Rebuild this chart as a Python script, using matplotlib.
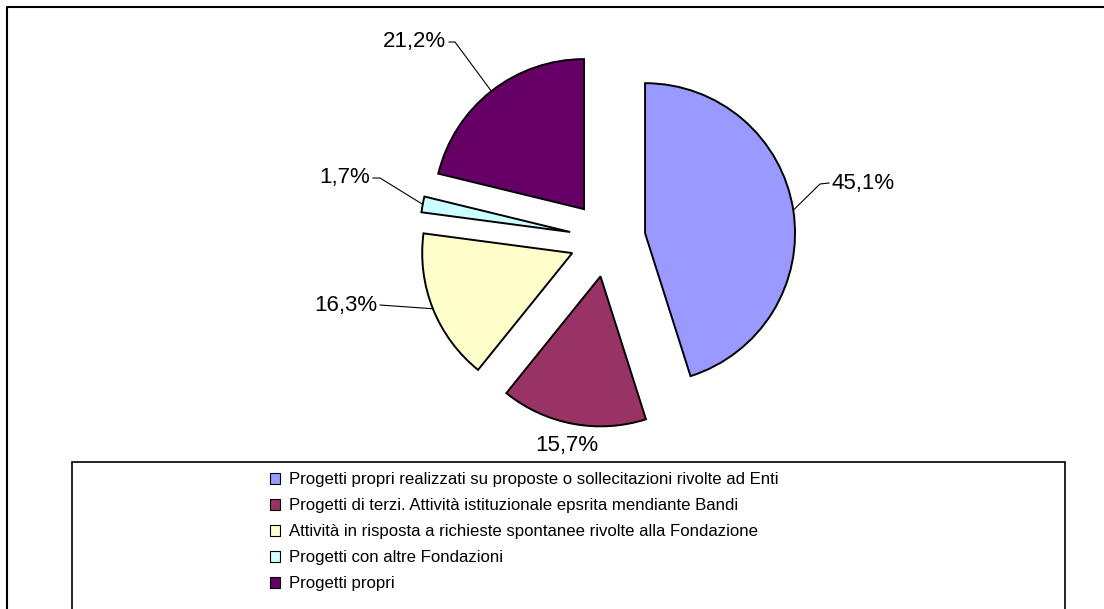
import matplotlib.pyplot as plt
import numpy as np
from matplotlib.patches import Patch, Rectangle

plt.rcParams['font.family'] = ['Liberation Sans', 'DejaVu Sans']

categories = [
    "Progetti propri realizzati su proposte o sollecitazioni rivolte ad Enti",
    "Progetti di terzi. Attività istituzionale epsrita mendiante Bandi",
    "Attività in risposta a richieste spontanee rivolte alla Fondazione",
    "Progetti con altre Fondazioni",
    "Progetti propri",
]
shares = [45.1, 15.7, 16.3, 1.7, 21.2]
share_labels = ["45,1%", "15,7%", "16,3%", "1,7%", "21,2%"]
colors = ["#9999FF", "#993366", "#FFFFCC", "#CCFFFF", "#660066"]

W, H = 1104, 609
fig = plt.figure(figsize=(W / 100, H / 100), dpi=100)
ax = fig.add_axes([0, 0, 1, 1])

# pie in pixel-like data units (y up)
wedges, _ = ax.pie(shares, colors=colors, startangle=90, counterclock=False,
                   center=(607.5, 370), radius=150, explode=[38] * 5,
                   wedgeprops=dict(edgecolor="black", linewidth=1.4),
                   frame=True)
ax.set_xlim(0, W)
ax.set_ylim(0, H)
ax.set_aspect("auto")
ax.axis("off")

# label text positions (x, y, ha) and leader elbows
label_pos = [(832, 426, "left"), (567, 164, "center"), (377, 304, "right"),
             (370, 431, "right"), (446, 567, "right")]
elbows = [(820, 425), None, None, (380, 431), (455, 567)]
for w, txt, (tx, ty, ha), elb in zip(wedges, share_labels, label_pos, elbows):
    ang = np.deg2rad((w.theta1 + w.theta2) / 2)
    arc_pt = (w.center[0] + w.r * np.cos(ang), w.center[1] + w.r * np.sin(ang))
    ax.text(tx, ty, txt, ha=ha, va="center", fontsize=16)
    if ha == "center":
        continue
    end_x = tx - 3 if ha == "left" else tx + 3
    if elb is None:
        xs, ys = [arc_pt[0], end_x], [arc_pt[1], ty]
    else:
        xs, ys = [arc_pt[0], elb[0], end_x], [arc_pt[1], elb[1], ty]
    ax.plot(xs, ys, color="black", lw=0.8)

# outer chart frame (left and top only visible)
ax.plot([7, 7, W + 5], [-5, H - 7, H - 7], color="black", lw=1.5,
        clip_on=False)

# legend box
ax.add_patch(Rectangle((72, -20), 1065 - 72, (H - 462) + 20, fill=False,
                       edgecolor="black", lw=1.2))
handles = [Patch(facecolor=c, edgecolor="black", lw=0.8) for c in colors]
fig.legend(handles, categories, loc="upper left",
           bbox_to_anchor=(270 / W, 1 - 472 / H), frameon=False,
           fontsize=12.1, handlelength=0.62, handleheight=0.62,
           handletextpad=0.5, labelspacing=0.66, borderpad=0,
           borderaxespad=0)

fig.savefig("out.png", dpi=100)
